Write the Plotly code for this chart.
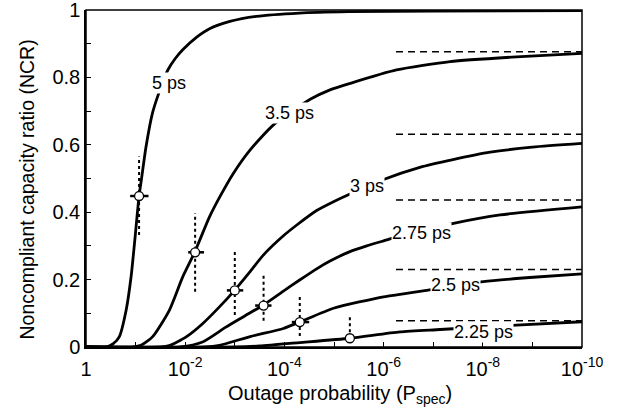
import plotly.graph_objects as go

# curves: x given as decades d, where outage probability P = 10^-d
d_5 = [0, 0.40, 0.55, 0.67, 0.81, 0.91, 0.99, 1.07, 1.12, 1.21, 1.34, 1.47, 1.65, 1.80, 1.95, 2.22, 2.50, 2.90, 3.43, 4.3, 5.3, 7.0, 10]
y_5 = [0, 0, 0.01, 0.03, 0.11, 0.21, 0.326, 0.448, 0.50, 0.594, 0.694, 0.754, 0.822, 0.856, 0.882, 0.918, 0.945, 0.966, 0.981, 0.991, 0.995, 0.997, 0.998]

d_35 = [0, 0.95, 1.12, 1.34, 1.68, 1.95, 2.19, 2.49, 2.70, 2.97, 3.31, 3.78, 4.52, 4.92, 5.32, 6.26, 7.34, 8.68, 10]
y_35 = [0, 0, 0.006, 0.03, 0.109, 0.208, 0.281, 0.386, 0.446, 0.515, 0.585, 0.659, 0.735, 0.763, 0.782, 0.822, 0.847, 0.861, 0.871]

d_3 = [0, 1.5, 1.68, 2.02, 2.35, 2.69, 3.0, 3.3, 3.57, 3.98, 4.25, 4.65, 5.0, 5.29, 6.0, 6.73, 7.4, 8.15, 9.0, 10]
y_3 = [0, 0, 0.004, 0.03, 0.069, 0.119, 0.169, 0.222, 0.272, 0.33, 0.362, 0.405, 0.432, 0.452, 0.497, 0.533, 0.556, 0.578, 0.593, 0.604]

d_275 = [0, 1.9, 2.35, 2.82, 3.2, 3.57, 3.98, 4.3, 4.65, 4.92, 5.32, 5.66, 6.0, 6.3, 7.41, 8.35, 10]
y_275 = [0, 0, 0.015, 0.059, 0.092, 0.124, 0.166, 0.198, 0.232, 0.255, 0.283, 0.300, 0.315, 0.328, 0.367, 0.392, 0.416]

d_25 = [0, 2.4, 2.69, 3.31, 3.98, 4.31, 4.99, 6.0, 6.33, 6.83, 8.01, 9.02, 10]
y_25 = [0, 0, 0.005, 0.031, 0.055, 0.074, 0.115, 0.149, 0.156, 0.167, 0.194, 0.207, 0.217]

d_225 = [0, 3.0, 3.5, 4.31, 5.32, 6.33, 7.14, 8.68, 10]
y_225 = [0, 0, 0.003, 0.013, 0.026, 0.045, 0.052, 0.065, 0.075]

curve_names = ["5 ps", "3.5 ps", "3 ps", "2.75 ps", "2.5 ps", "2.25 ps"]
curves = [(d_5, y_5), (d_35, y_35), (d_3, y_3), (d_275, y_275), (d_25, y_25), (d_225, y_225)]

# asymptote levels (dashed), spanning decades 6.25 .. 10
asym_levels = [0.876, 0.631, 0.436, 0.230, 0.078]
asym_span = [6.25, 10]

# measured points with error bars
pt_d = [1.07, 2.20, 3.0, 3.58, 4.31, 5.32]
pt_y = [0.448, 0.281, 0.168, 0.123, 0.074, 0.026]
err_y_lo = [0.332, 0.164, 0.095, 0.078, 0.033, 0.026]
err_y_hi = [0.565, 0.397, 0.283, 0.217, 0.157, 0.088]
err_d_lo = [0.89, 2.06, 2.84, 3.41, 4.15, 5.32]
err_d_hi = [1.26, 2.38, 3.17, 3.74, 4.50, 5.32]

# curve label positions
lab_d = [1.68, 4.11, 5.66, 6.77, 7.44, 8.01]
lab_y = [0.784, 0.693, 0.478, 0.337, 0.184, 0.045]

x_tick_dec = list(range(0, 11))
y_tick_vals = [i / 10 for i in range(11)]


def P(dlist):
    return [10 ** (-d) for d in dlist]


FONT = "Liberation Sans, Arial, sans-serif"
fig = go.Figure()

for lvl in asym_levels:
    fig.add_trace(go.Scatter(
        x=P(asym_span), y=[lvl, lvl], mode="lines",
        line=dict(color="black", width=1.5, dash="7px,5px"),
        showlegend=False, hoverinfo="skip",
    ))

for i in range(len(pt_d)):
    fig.add_trace(go.Scatter(
        x=P([pt_d[i], pt_d[i]]), y=[err_y_lo[i], err_y_hi[i]], mode="lines",
        line=dict(color="black", width=2, dash="dot"),
        showlegend=False, hoverinfo="skip",
    ))
    fig.add_trace(go.Scatter(
        x=P([err_d_lo[i], err_d_hi[i]]), y=[pt_y[i], pt_y[i]], mode="lines",
        line=dict(color="black", width=2.5),
        showlegend=False, hoverinfo="skip",
    ))

for name, (dd, yy) in zip(curve_names, curves):
    fig.add_trace(go.Scatter(
        x=P(dd), y=yy, mode="lines", name=name,
        line=dict(color="black", width=2.8, shape="spline", smoothing=0.6),
        showlegend=False,
    ))

fig.add_trace(go.Scatter(
    x=P(pt_d), y=pt_y, mode="markers",
    marker=dict(symbol="circle", size=9, color="white", line=dict(color="black", width=1.3)),
    showlegend=False,
))

for name, ld, ly in zip(curve_names, lab_d, lab_y):
    fig.add_annotation(
        x=-ld, y=ly, xref="x", yref="y", text=name, showarrow=False,
        bgcolor="white", font=dict(family=FONT, size=18, color="black"),
        borderpad=0,
    )

# axis titles
fig.add_annotation(
    x=0.5, y=0, xref="paper", yref="paper", xshift=6, yshift=-47,
    text="Outage probability (P<sub>spec</sub>)", showarrow=False,
    xanchor="center", yanchor="middle", font=dict(family=FONT, size=20, color="black"),
)
fig.add_annotation(
    x=0, y=0.5, xref="paper", yref="paper", xshift=-60, yshift=-11,
    text="Noncompliant capacity ratio (NCR)", showarrow=False, textangle=-90,
    xanchor="center", yanchor="middle", font=dict(family=FONT, size=19.5, color="black"),
)

# plot frame
fig.add_shape(type="rect", xref="paper", yref="paper", x0=0, y0=0, x1=1, y1=1,
              line=dict(color="black", width=1.5), layer="above")

x_text = ["1" if d == 0 else ("10<sup>-%d</sup>" % d if d % 2 == 0 else "") for d in x_tick_dec]
y_text = [("%g" % v if round(v * 10) % 2 == 0 else "") for v in y_tick_vals]

tick_style = dict(ticks="inside", ticklen=5, tickwidth=1, tickcolor="black",
                  showgrid=False, zeroline=False, automargin=False)

fig.update_layout(
    width=624, height=413,
    margin=dict(l=86, r=42, t=10, b=66, autoexpand=False),
    paper_bgcolor="white", plot_bgcolor="white",
    font=dict(family=FONT, size=20, color="black"),
    xaxis=dict(
        type="log", range=[0, -10],
        tickvals=P(x_tick_dec), ticktext=x_text,
        showline=True, linecolor="black", linewidth=1.5,
        tickfont=dict(size=20), ticklabeloverflow="allow", ticklabelstandoff=3,
        **tick_style,
    ),
    yaxis=dict(
        range=[0, 1],
        tickvals=y_tick_vals, ticktext=y_text,
        showline=True, linecolor="black", linewidth=1.5,
        tickfont=dict(size=20), ticklabeloverflow="allow",
        **tick_style,
    ),
    xaxis2=dict(
        type="log", range=[0, -10], overlaying="x", side="top", matches="x",
        tickvals=P(x_tick_dec), showticklabels=False, showline=False,
        **tick_style,
    ),
    yaxis2=dict(
        range=[0, 1], overlaying="y", side="right", matches="y",
        tickvals=y_tick_vals, showticklabels=False, showline=False,
        **tick_style,
    ),
)

fig.write_html(
    "out.html",
    config={"displayModeBar": False},
    post_script="document.body.style.margin='0';document.documentElement.style.overflow='hidden';window.scrollTo(0,0);",
)
